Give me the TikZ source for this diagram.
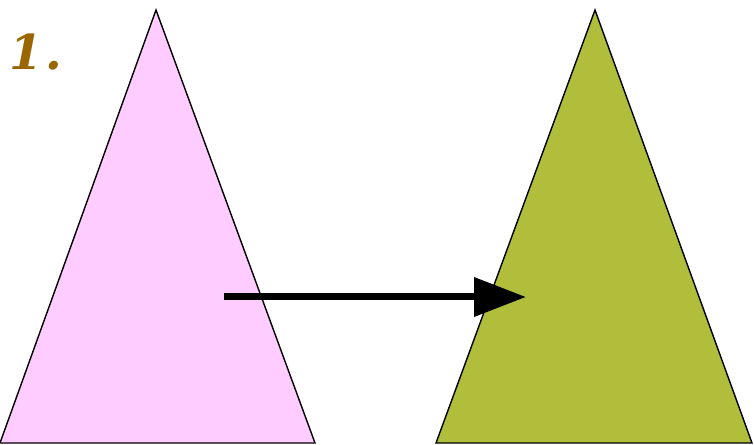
\documentclass[tikz,border=0pt]{standalone}
\usepackage{fontspec}
\newfontfamily\lblfont{DejaVu Serif}
\usetikzlibrary{arrows.meta}
\definecolor{pinkfill}{HTML}{FFCCFF}
\definecolor{olivefill}{HTML}{B0BE3C}
\definecolor{labelbrown}{HTML}{996600}
\tikzset{tri/.style={draw=black, line width=1.4pt, line join=miter}}
\begin{document}
\begin{tikzpicture}[x=1pt,y=1pt]
\useasboundingbox (0,0) rectangle (754,444);
\coordinate (aA) at (156,434);
\coordinate (aL) at (0,1);
\coordinate (aR) at (315,1);
\coordinate (bA) at (595,434);
\coordinate (bL) at (436,1);
\coordinate (bR) at (752,1);
\filldraw[tri, fill=pinkfill] (aA) -- (aR) -- (aL) -- cycle;
\filldraw[tri, fill=olivefill] (bA) -- (bR) -- (bL) -- cycle;
\coordinate (s) at (224,147);
\coordinate (e) at (526,147);
\draw[line width=7pt, -{Triangle[length=52pt,width=38pt]}] (s) -- (e);
\node[anchor=base west, inner sep=0pt, text=labelbrown, font=\lblfont\fontsize{48}{52}\selectfont\bfseries\itshape] (lbl) at (9,374) {1\kern3pt.};
\end{tikzpicture}
\end{document}
